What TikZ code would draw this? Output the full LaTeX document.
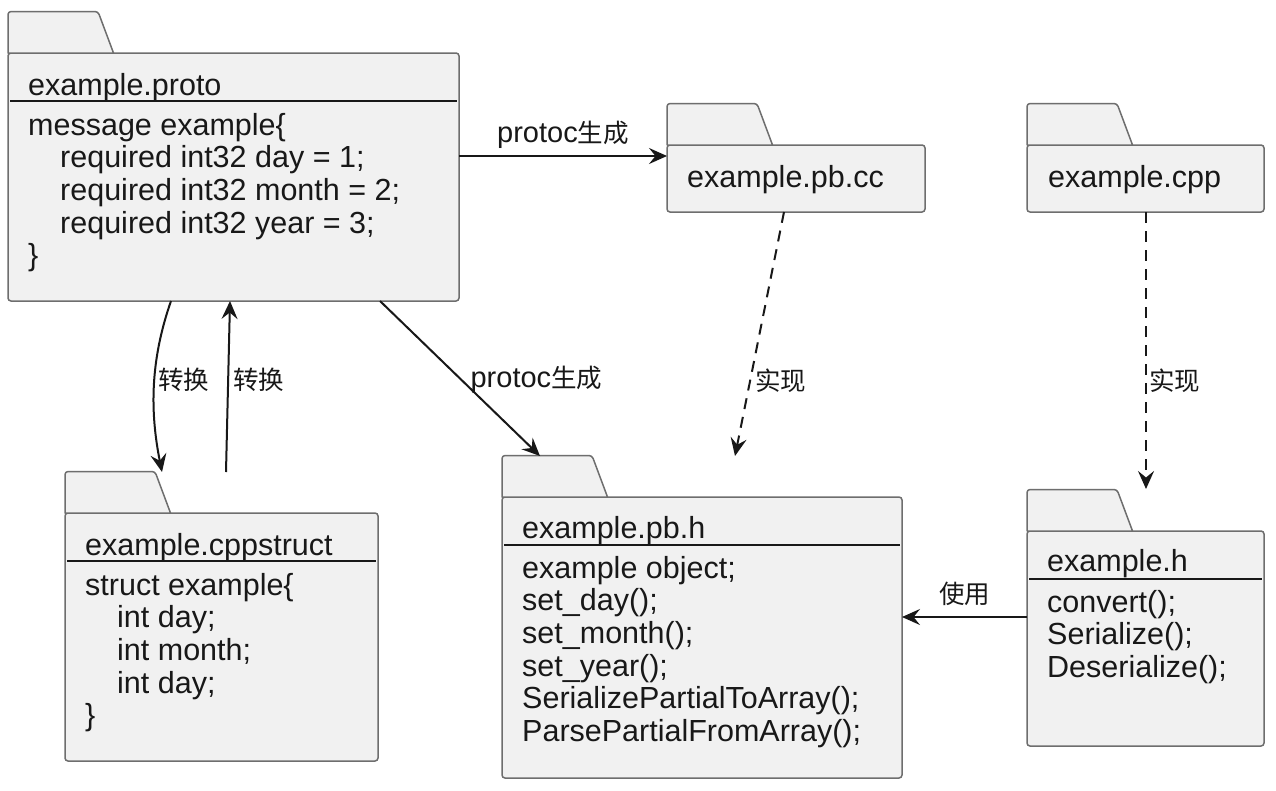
\documentclass[tikz,border=0pt]{standalone}
\usepackage{fontspec}
\setmainfont{Liberation Sans}
\newfontfamily\cjk{Noto Sans CJK SC}
\usetikzlibrary{arrows.meta,calc}
\definecolor{pkgfill}{HTML}{F1F1F1}
\definecolor{pkgline}{HTML}{6E6E6E}
\definecolor{ink}{HTML}{181818}
\newcommand\mytxt{\fontsize{30.5}{32.7}\selectfont}
\newcommand\mylbl{\fontsize{29}{32}\selectfont}
\newcommand\zh[1]{{\cjk\fontsize{25.5}{30}\selectfont #1}}
\newcommand\blockl[1]{\vtop{\mytxt\baselineskip=32.7pt\lineskiplimit=-100pt\lineskip=0pt #1}}
\newcommand\ind{\hspace*{32pt}}
\newcommand\pkgtab[1]{\path[tabshape] (#1.north west) [rounded corners=3pt] -- ++(0,-41.5) -- ++(90,0) [sharp corners] -- ++(15.5,41.5) -- cycle;}
\newcommand\pkgsep[1]{\draw[sepline] ($(#1.north west)+(2,47.5)$) -- ($(#1.north east)+(-2,47.5)$);}
\begin{document}
\begin{tikzpicture}[x=1pt,y=-1pt,
  body/.style={draw=pkgline, fill=pkgfill, line width=1.5pt, rounded corners=3pt, anchor=north west, inner sep=0pt, outer sep=0pt},
  tabshape/.style={draw=pkgline, fill=pkgfill, line width=1.5pt, line join=round},
  sepline/.style={draw=ink, line width=2pt},
  txt/.style={anchor=base west, inner sep=0pt, font=\mytxt, text=ink},
  conn/.style={draw=ink, line width=2pt, -{Stealth[length=18pt,width=16pt,inset=6.5pt]}},
  dashconn/.style={conn, dash pattern=on 11pt off 8pt},
  lbl/.style={inner sep=0pt, font=\mylbl, text=ink}]
\useasboundingbox[fill=white] (0,0) rectangle (1276,790);

% package bodies
\node[body, minimum width=451pt, minimum height=248pt] (proto) at (8,53) {};
\node[body, minimum width=258pt, minimum height=67pt] (pbcc) at (667,145) {};
\node[body, minimum width=237pt, minimum height=67pt] (cpp) at (1027,145) {};
\node[body, minimum width=313pt, minimum height=248pt] (cst) at (65,513) {};
\node[body, minimum width=400pt, minimum height=281pt] (pbh) at (502,497) {};
\node[body, minimum width=237pt, minimum height=215pt] (hh) at (1027,531) {};

% tabs
\pkgtab{proto}
\pkgtab{pbcc}
\pkgtab{cpp}
\pkgtab{cst}
\pkgtab{pbh}
\pkgtab{hh}

% separators
\pkgsep{proto}
\pkgsep{cst}
\pkgsep{pbh}
\pkgsep{hh}

% titles
\node[txt] (protoT) at ($(proto.north west)+(20,42)$) {example.proto};
\node[txt] (pbccT) at ($(pbcc.north west)+(20,42)$) {example.pb.cc};
\node[txt] (cppT) at ($(cpp.north west)+(21,42)$) {example.cpp};
\node[txt] (cstT) at ($(cst.north west)+(20,42)$) {example.cppstruct};
\node[txt] (pbhT) at ($(pbh.north west)+(20,41)$) {example.pb.h};
\node[txt] (hhT) at ($(hh.north west)+(20,40)$) {example.h};

% contents
\node[txt] (protoB) at ($(proto.north west)+(20,82)$) {\blockl{%
  \hbox{message example\{}
  \hbox{\ind required int32 day = 1;}
  \hbox{\ind required int32 month = 2;}
  \hbox{\ind required int32 year = 3;}
  \hbox{\}}}};
\node[txt] (cstB) at ($(cst.north west)+(20,82)$) {\blockl{%
  \hbox{struct example\{}
  \hbox{\ind int day;}
  \hbox{\ind int month;}
  \hbox{\ind int day;}
  \hbox{\}}}};
\node[txt] (pbhB) at ($(pbh.north west)+(20,81)$) {\blockl{%
  \hbox{example object;}
  \hbox{set\_day();}
  \hbox{set\_month();}
  \hbox{set\_year();}
  \hbox{SerializePartialToArray();}
  \hbox{ParsePartialFromArray();}}};
\node[txt] (hhB) at ($(hh.north west)+(20,81)$) {\blockl{%
  \hbox{convert();}
  \hbox{Serialize();}
  \hbox{Deserialize();}}};

% connectors
\draw[conn] ([yshift=-103pt]proto.north east) -- ([yshift=-11pt]pbcc.north west)
  node[lbl, midway, yshift=21pt] (l1) {protoc\zh{生成}};
\draw[conn] ($(proto.south west)+(372,0)$) -- ($(pbh.north west)+(38,-41)$)
  node[lbl, pos=0.51, anchor=west, xshift=8pt] (l2) {protoc\zh{生成}};
\draw[conn] ($(proto.south west)+(163,0)$) .. controls +(-21,60) and +(-12,-60) .. ($(cst.north west)+(97,-41)$)
  node[lbl, pos=0.46, anchor=west, xshift=3pt] (l3) {\zh{转换}};
\draw[conn] ($(cst.north west)+(161,-41)$) -- ($(proto.south west)+(222,0)$)
  node[lbl, pos=0.54, anchor=west, xshift=4pt] (l4) {\zh{转换}};
\draw[dashconn] ($(pbcc.south west)+(117,0)$) -- ($(pbh.north west)+(233,-41)$)
  node[lbl, pos=0.69, anchor=west, xshift=4pt] (l5) {\zh{实现}};
\draw[dashconn] ($(cpp.south west)+(119,0)$) -- ($(hh.north west)+(119,-42)$)
  node[lbl, pos=0.61, anchor=west, xshift=2pt] (l6) {\zh{实现}};
\draw[conn] ($(hh.north west)+(0,86)$) -- ($(pbh.north east)+(0,120)$)
  node[lbl, midway, yshift=23pt] (l7) {\zh{使用}};
\end{tikzpicture}
\end{document}
